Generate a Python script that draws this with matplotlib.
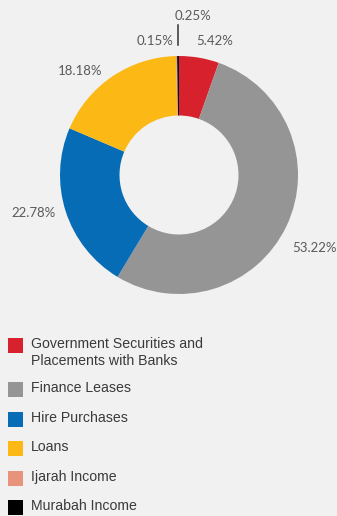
import matplotlib
matplotlib.use('Agg')
import matplotlib.pyplot as plt
from matplotlib.patches import Rectangle

# portfolio mix (%), clockwise from 12 o'clock
categories = ['Government Securities and\nPlacements with Banks', 'Finance Leases',
              'Hire Purchases', 'Loans', 'Ijarah Income', 'Murabah Income']
shares = [5.42, 53.22, 22.78, 18.18, 0.15, 0.25]
colors = ['#d7222d', '#959595', '#066cb6', '#fcb814', '#e8937b', '#000000']

# where each percentage label sits, in donut units (radius = 1)
label_pos = [(0.30, 1.13), (1.14, -0.61), (-1.22, -0.32), (-0.83, 0.87),
             (-0.20, 1.13), (0.12, 1.34)]

BG = '#f1f1f1'
W, H = 337, 516
fig = plt.figure(figsize=(W / 100, H / 100), dpi=100, facecolor=BG)

# donut: centre (179, 175) px, outer radius 119 px
cx, cy, r = 179, 175, 119
ax = fig.add_axes([(cx - r) / W, 1 - (cy + r) / H, 2 * r / W, 2 * r / H])
ax.set_facecolor(BG)
ax.pie(shares, colors=colors, startangle=90, counterclock=False, radius=1,
       wedgeprops=dict(width=0.5, linewidth=0))
ax.set_xlim(-1, 1)
ax.set_ylim(-1, 1)
ax.set_aspect('equal')
ax.axis('off')

for v, (x, y) in zip(shares, label_pos):
    ax.text(x, y, f'{v:.2f}%', ha='center', va='center', fontsize=9.5,
            family='Lato', color='#5a5a5a', clip_on=False)

# leader line for the Murabah slice
ax.plot([-0.01, -0.01], [1.09, 1.26], color='#333333', lw=1.1, clip_on=False)

# legend
row_top = [338, 382, 412, 441, 471, 500]
for lab, c, yt in zip(categories, colors, row_top):
    fig.add_artist(Rectangle((8 / W, 1 - (yt + 15) / H), 15 / W, 15 / H,
                             transform=fig.transFigure, color=c, lw=0))
    fig.text(31 / W, 1 - (yt - 1) / H, lab, ha='left', va='top', fontsize=10.2,
             family='Liberation Sans', color='#3a3a3a', linespacing=1.3)

plt.savefig('out.png', dpi=100, facecolor=BG)
